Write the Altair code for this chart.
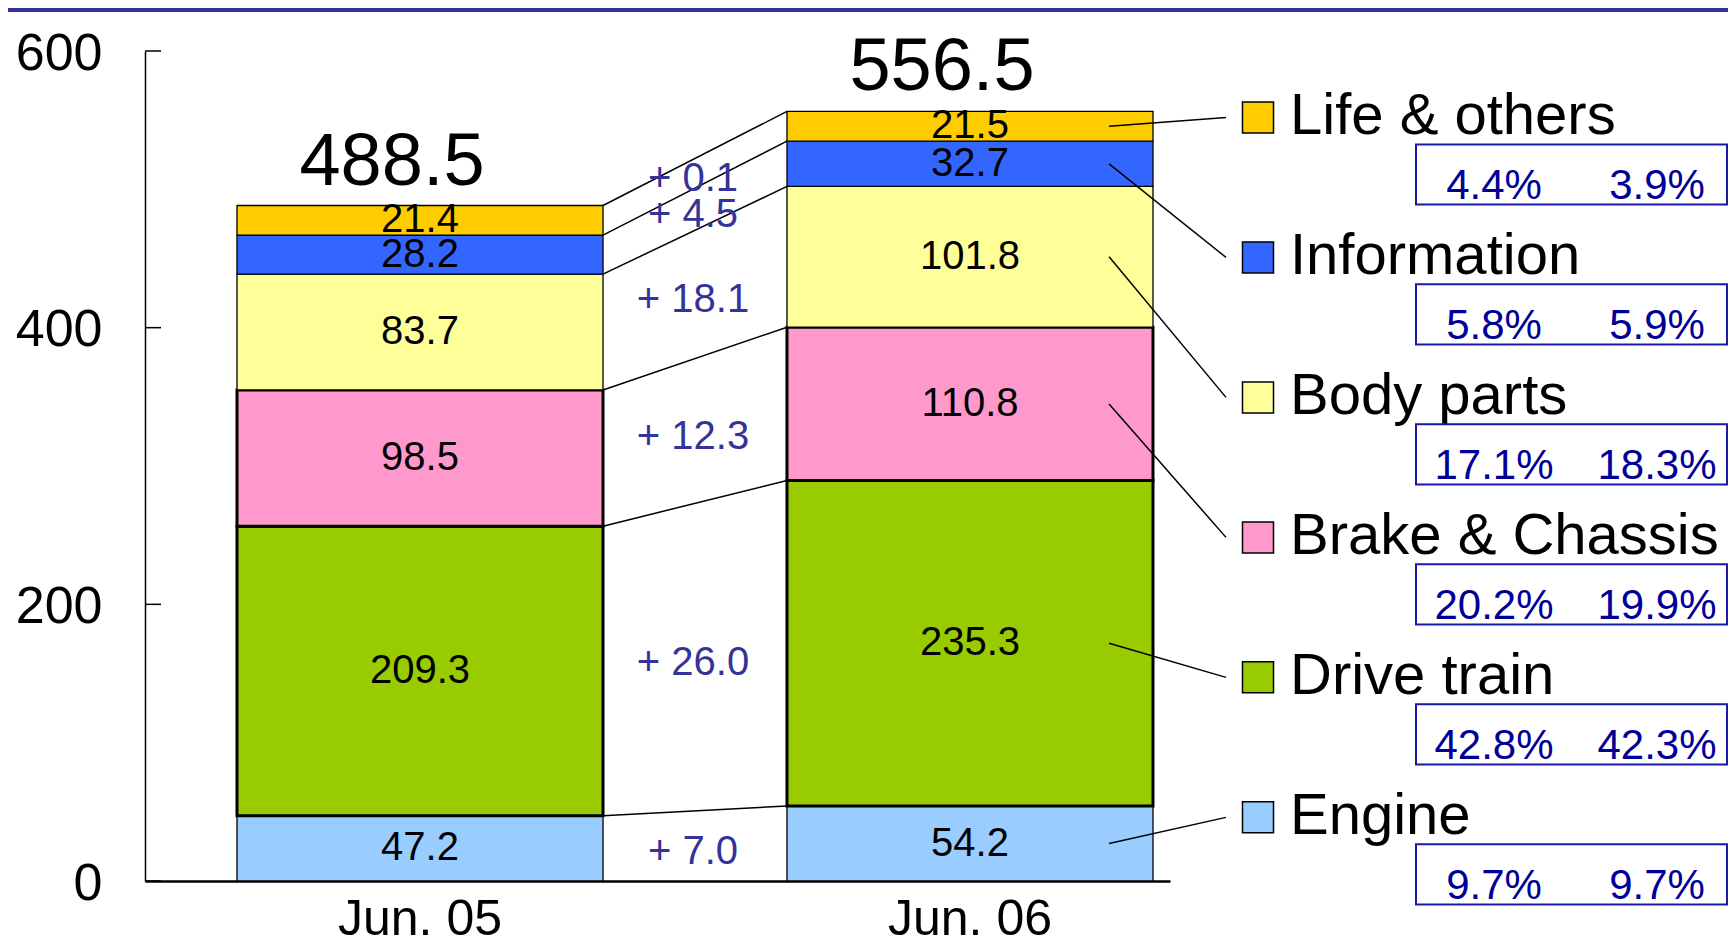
import altair as alt
import pandas as pd

# ---------------- data ----------------
periods = ["Jun. 05", "Jun. 06"]
categories = ["Engine", "Drive train", "Brake & Chassis", "Body parts", "Information", "Life & others"]
values_jun05 = [47.2, 209.3, 98.5, 83.7, 28.2, 21.4]
values_jun06 = [54.2, 235.3, 110.8, 101.8, 32.7, 21.5]
total_labels = ["488.5", "556.5"]
share_jun05 = ["9.7%", "42.8%", "20.2%", "17.1%", "5.8%", "4.4%"]
share_jun06 = ["9.7%", "42.3%", "19.9%", "18.3%", "5.9%", "3.9%"]
colors = ["#99CCFF", "#99CC00", "#FF99CC", "#FFFF99", "#3366FF", "#FFCC00"]
y_ticks = [0, 200, 400, 600]

# ---------------- layout constants ----------------
FONT = "Liberation Sans"
NARROW = "Liberation Sans Narrow, Liberation Sans"
PLOT_W, PLOT_H = 1025, 830
LEGEND_TOP = 552.0      # legend rows placed in the value space of the y scale
LEGEND_STEP = 101.2
BOX_TOP_OFF, BOX_BOT_OFF = 19.5, 63.0

# ---------------- derived tables ----------------
def stack(vals):
    out, s = [], 0.0
    for v in vals:
        out.append((s, s + v))
        s += v
    return out

st05, st06 = stack(values_jun05), stack(values_jun06)

bar_rows = []
for p, vals, st in [(periods[0], values_jun05, st05), (periods[1], values_jun06, st06)]:
    for c, v, (a, b) in zip(categories, vals, st):
        bar_rows.append({"period": p, "category": c, "value": v, "y0": a, "y1": b, "mid": (a + b) / 2})
bar_df = pd.DataFrame(bar_rows)

conn_df = pd.DataFrame({
    "p1": periods[0], "p2": periods[1],
    "category": categories,
    "top05": [b for a, b in st05],
    "top06": [b for a, b in st06],
})

delta_df = pd.DataFrame({
    "period": periods[1],
    "category": categories,
    "label": ["+ %.1f" % (b - a) for a, b in zip(values_jun05, values_jun06)],
    "ymid": [((a0 + b0) / 2 + (a1 + b1) / 2) / 2 for (a0, b0), (a1, b1) in zip(st05, st06)],
})

tot_df = pd.DataFrame({
    "period": periods,
    "label": total_labels,
    "top": [st05[-1][1], st06[-1][1]],
})

rank = {c: len(categories) - 1 - i for i, c in enumerate(categories)}
leg_df = pd.DataFrame({
    "period": periods[1],
    "category": categories,
    "s05": share_jun05,
    "s06": share_jun06,
    "mid06": [(a + b) / 2 for a, b in st06],
})
leg_df["legend_y"] = [LEGEND_TOP - rank[c] * LEGEND_STEP for c in categories]
leg_df["box_top"] = leg_df["legend_y"] - BOX_TOP_OFF
leg_df["box_bot"] = leg_df["legend_y"] - BOX_BOT_OFF

# ---------------- scales & axes ----------------
x_scale = alt.Scale(domain=periods, paddingInner=0.3345, paddingOuter=0.0991, align=0.844)
y_scale = alt.Scale(domain=[0, 600], nice=False, zero=True)
color_scale = alt.Scale(domain=categories, range=colors)

x_axis = alt.Axis(title=None, labelAngle=0, ticks=False, grid=False, domainColor="black",
                  domainWidth=2.5, labelFontSize=50, labelColor="black",
                  labelPadding=13, labelFont=FONT)
y_axis = alt.Axis(values=y_ticks, title=None, ticks=False, grid=False,
                  domainColor="black", domainWidth=1.5, labelFontSize=52,
                  labelPadding=43, labelColor="black", labelFont=FONT, labelOffset=2)


def X(field, **kw):
    return alt.X(field, scale=x_scale, axis=x_axis, title=None, **kw)


def Y(field):
    return alt.Y(field, scale=y_scale, axis=y_axis, title=None)


# ---------------- layers ----------------
bars = alt.Chart(bar_df).mark_bar(stroke="black").encode(
    x=X("period:N"),
    y=Y("y0:Q"),
    y2="y1:Q",
    color=alt.Color("category:N", scale=color_scale, legend=None),
    strokeWidth=alt.condition(
        alt.FieldOneOfPredicate(field="category", oneOf=["Drive train", "Brake & Chassis"]),
        alt.value(3), alt.value(1.3)),
)

inner_ticks = alt.Chart(pd.DataFrame({"v": y_ticks})).mark_rule(color="black", strokeWidth=1.5).encode(
    y=Y("v:Q"),
    x=alt.value(0), x2=alt.value(16),
)

seg_labels = alt.Chart(bar_df).mark_text(fontSize=40, font=FONT, color="black", baseline="middle").encode(
    x=X("period:N"),
    y=Y("mid:Q"),
    text=alt.Text("value:Q", format=".1f"),
)

totals = alt.Chart(tot_df).mark_text(fontSize=74, font=FONT, color="black", baseline="alphabetic",
                                     dx=-28, dy=-21).encode(
    x=X("period:N"),
    y=Y("top:Q"),
    text="label:N",
)

connectors = alt.Chart(conn_df).mark_rule(color="black", strokeWidth=1.5).encode(
    x=X("p1:N", bandPosition=1),
    x2=alt.X2("p2:N", bandPosition=0),
    y=Y("top05:Q"),
    y2="top06:Q",
)

deltas = alt.Chart(delta_df).mark_text(fontSize=40, font=FONT, color="#333399", baseline="middle",
                                       dx=-94, dy=6).encode(
    x=X("period:N", bandPosition=0),
    y=Y("ymid:Q"),
    text="label:N",
)

leaders = alt.Chart(leg_df).mark_rule(color="black", strokeWidth=1.5).encode(
    x=X("period:N", bandPosition=0.88),
    y=Y("mid06:Q"),
    x2=alt.value(1081),
    y2="legend_y:Q",
)

leg_squares = alt.Chart(leg_df).mark_square(size=31 * 31, stroke="black", strokeWidth=1.5,
                                            opacity=1, filled=True).encode(
    x=alt.value(1113),
    y=Y("legend_y:Q"),
    color=alt.Color("category:N", scale=color_scale, legend=None),
)

leg_text = alt.Chart(leg_df).mark_text(fontSize=58, font=FONT, color="black", align="left",
                                       baseline="alphabetic", dy=17).encode(
    x=alt.value(1145),
    y=Y("legend_y:Q"),
    text="category:N",
)

leg_boxes = alt.Chart(leg_df).mark_rect(fill="white", stroke="#1A1AA6", strokeWidth=2).encode(
    x=alt.value(1271), x2=alt.value(1582),
    y=Y("box_top:Q"),
    y2="box_bot:Q",
)

pct05 = alt.Chart(leg_df).mark_text(fontSize=42, font=NARROW, color="#000099",
                                    baseline="alphabetic", dy=82).encode(
    x=alt.value(1349),
    y=Y("legend_y:Q"),
    text="s05:N",
)
pct06 = alt.Chart(leg_df).mark_text(fontSize=42, font=NARROW, color="#000099",
                                    baseline="alphabetic", dy=82).encode(
    x=alt.value(1512),
    y=Y("legend_y:Q"),
    text="s06:N",
)

top_border = alt.Chart(pd.DataFrame({"a": [0]})).mark_rule(color="#333399", strokeWidth=4).encode(
    x=alt.value(-137), x2=alt.value(1583), y=alt.value(-41),
)

chart = alt.layer(
    bars, connectors, inner_ticks, seg_labels, totals, deltas,
    leaders, leg_squares, leg_text, leg_boxes, pct05, pct06, top_border,
).properties(
    width=PLOT_W, height=PLOT_H,
    padding={"left": 137, "top": 43, "right": 558, "bottom": 63},
    autosize=alt.AutoSizeParams(type="none"),
).configure(font=FONT).configure_view(stroke=None)

chart.save("out.html", embed_options={"renderer": "svg", "actions": False})
